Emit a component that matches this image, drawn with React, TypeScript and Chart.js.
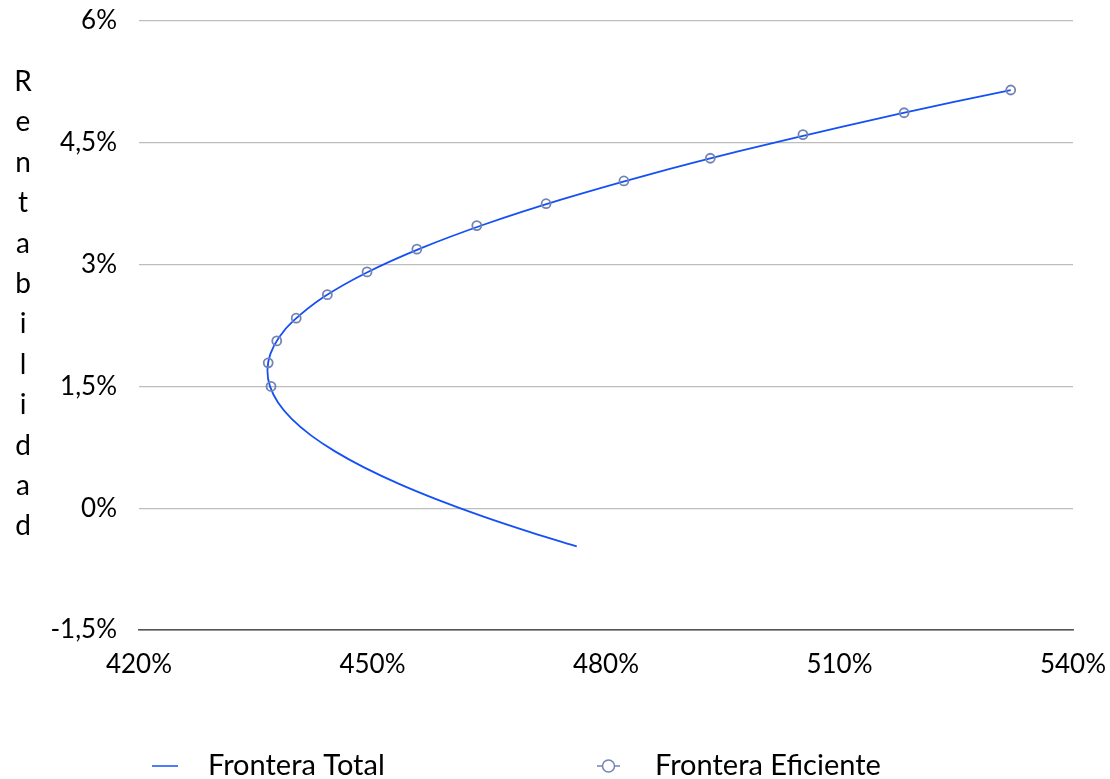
import { useEffect, useRef } from 'react';
import { Chart, registerables } from 'chart.js';

Chart.register(...registerables);

const FONT = 'Lato, "Open Sans", sans-serif';

// Frontera Total (riesgo %, rentabilidad %)
const totalRisk = [476.24, 470.45, 464.17, 458.49, 453.41, 448.97, 445.18, 442.05, 439.62, 437.88, 436.83, 436.5, 436.88, 437.96, 439.75, 443.72, 449.22, 456.18, 464.54, 474.22, 485.15, 497.24, 510.41, 524.57, 532.0];
const totalReturn = [-0.47, -0.3, -0.1, 0.1, 0.3, 0.5, 0.7, 0.9, 1.1, 1.3, 1.5, 1.7, 1.9, 2.1, 2.3, 2.6, 2.9, 3.2, 3.5, 3.8, 4.1, 4.4, 4.7, 5.0, 5.15];

// Frontera Eficiente
const effRisk = [436.96, 436.6, 437.7, 440.2, 444.2, 449.3, 455.7, 463.4, 472.3, 482.3, 493.4, 505.3, 518.3, 532.0];
const effReturn = [1.5, 1.79, 2.06, 2.34, 2.63, 2.91, 3.19, 3.48, 3.75, 4.03, 4.31, 4.6, 4.87, 5.15];

const xTickValues = [420, 450, 480, 510, 540];
const xTickLabels = ['420%', '450%', '480%', '510%', '540%'];
const yTickValues = [-1.5, 0, 1.5, 3, 4.5, 6];
const yTickLabels = ['-1,5%', '0%', '1,5%', '3%', '4,5%', '6%'];

const seriesNames = ['Frontera Total', 'Frontera Eficiente'];
const yTitle = 'Rentabilidad';

const LINE_COLOR = '#1450f5';
const MARKER_COLOR = '#7384b4';

export default function App() {
  const ref = useRef<HTMLCanvasElement>(null);

  useEffect(() => {
    document.body.style.margin = '0';
    const totalData = totalRisk.map((x, i) => ({ x, y: totalReturn[i] }));
    const effData = effRisk.map((x, i) => ({ x, y: effReturn[i] }));

    const customPlugin = {
      id: 'custom',
      afterDraw(chart: any) {
        const ctx = chart.ctx;
        ctx.save();
        // Y title, stacked letters
        ctx.fillStyle = '#000';
        ctx.font = `28px ${FONT}`;
        ctx.textAlign = 'center';
        ctx.textBaseline = 'middle';
        const letters = yTitle.split('');
        const step = 40.4;
        const startY = 82;
        letters.forEach((ch, i) => ctx.fillText(ch, 23, startY + i * step));

        // Legend
        const ly = 766;
        ctx.font = `29px ${FONT}`;
        ctx.lineWidth = 1.5;
        ctx.strokeStyle = LINE_COLOR;
        ctx.beginPath();
        ctx.moveTo(152, ly);
        ctx.lineTo(178, ly);
        ctx.stroke();
        ctx.textAlign = 'left';
        ctx.fillText(seriesNames[0], 208, ly);

        ctx.strokeStyle = MARKER_COLOR;
        ctx.beginPath();
        ctx.moveTo(597, ly);
        ctx.lineTo(620, ly);
        ctx.stroke();
        ctx.fillStyle = '#fff';
        ctx.beginPath();
        ctx.arc(608.5, ly, 6, 0, Math.PI * 2);
        ctx.fill();
        ctx.stroke();
        ctx.fillStyle = '#000';
        ctx.fillText(seriesNames[1], 655, ly);
        ctx.restore();
      },
    };

    const chart = new Chart(ref.current!, {
      type: 'scatter',
      data: {
        datasets: [
          {
            label: seriesNames[1],
            data: effData,
            showLine: false,
            pointStyle: 'circle',
            pointRadius: 4.5,
            pointBorderWidth: 1.8,
            pointBorderColor: MARKER_COLOR,
            pointBackgroundColor: 'rgba(0,0,0,0)',
            order: 0,
          },
          {
            label: seriesNames[0],
            data: totalData,
            showLine: true,
            borderColor: LINE_COLOR,
            borderWidth: 1.8,
            pointRadius: 0,
            tension: 0.3,
            order: 1,
          },
        ],
      },
      options: {
        animation: false,
        responsive: true,
        maintainAspectRatio: false,
        layout: { padding: { left: 0, right: 37, top: 21, bottom: 0 } },
        plugins: {
          legend: { display: false },
          tooltip: { enabled: false },
        },
        scales: {
          x: {
            type: 'linear',
            min: 420,
            max: 540,
            afterBuildTicks: (scale: any) => {
              scale.ticks = xTickValues.map((v) => ({ value: v }));
            },
            afterFit: (scale: any) => {
              scale.height = 149;
              scale.paddingLeft = 0;
              scale.paddingRight = 0;
            },
            grid: { display: false, drawTicks: false },
            border: { display: true, color: '#555555', width: 1.5 },
            ticks: {
              padding: 19,
              color: '#000',
              font: { family: FONT, size: 26 },
              maxRotation: 0,
              callback: (v: any) => {
                const i = xTickValues.indexOf(Number(v));
                return i >= 0 ? xTickLabels[i] : '';
              },
            },
          },
          y: {
            type: 'linear',
            min: -1.5,
            max: 6,
            afterBuildTicks: (scale: any) => {
              scale.ticks = yTickValues.map((v) => ({ value: v }));
            },
            afterFit: (scale: any) => {
              scale.width = 139;
              scale.paddingTop = 0;
              scale.paddingBottom = 0;
            },
            grid: {
              drawTicks: false,
              color: (c: any) => (c.tick && c.tick.value === -1.5 ? '#555555' : '#bdbdbd'),
              lineWidth: 1.2,
            },
            border: { display: false },
            ticks: {
              padding: 22,
              color: '#000',
              font: { family: FONT, size: 26 },
              callback: (v: any) => {
                const i = yTickValues.indexOf(Number(v));
                return i >= 0 ? yTickLabels[i] : '';
              },
            },
          },
        },
      },
      plugins: [customPlugin],
    });
    return () => chart.destroy();
  }, []);

  return (
    <div style={{ width: 1110, height: 779, position: 'relative' }}>
      <canvas ref={ref} />
    </div>
  );
}
